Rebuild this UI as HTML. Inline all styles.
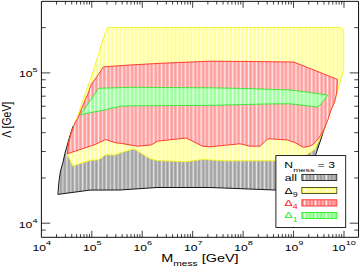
<!DOCTYPE html>
<html><head><meta charset="utf-8">
<style>
html,body{margin:0;padding:0;background:#fff;}
body{width:360px;height:267px;overflow:hidden;font-family:"Liberation Sans",sans-serif;}
svg{display:block;}
text{font-family:"Liberation Sans",sans-serif;}
</style></head><body>
<svg width="360" height="267" viewBox="0 0 360 267">
<defs>
<linearGradient id="gy" x1="0" x2="1" y1="0" y2="0"><stop offset="0.0000" stop-color="#ffff98"/><stop offset="0.0127" stop-color="#ffff98"/><stop offset="0.1899" stop-color="#ffffee"/><stop offset="0.3671" stop-color="#ffff98"/><stop offset="0.5127" stop-color="#ffff98"/><stop offset="0.6899" stop-color="#ffffd6"/><stop offset="0.8671" stop-color="#ffff98"/><stop offset="1.0000" stop-color="#ffff98"/></linearGradient><pattern id="py" width="7.9" height="40" patternUnits="userSpaceOnUse" x="2.15"><rect width="7.9" height="40" fill="url(#gy)"/></pattern><linearGradient id="gr" x1="0" x2="1" y1="0" y2="0"><stop offset="0.0000" stop-color="#ff9999"/><stop offset="0.0127" stop-color="#ff9999"/><stop offset="0.1899" stop-color="#ffeeee"/><stop offset="0.3671" stop-color="#ff9999"/><stop offset="0.5127" stop-color="#ff9999"/><stop offset="0.6899" stop-color="#ffd6d6"/><stop offset="0.8671" stop-color="#ff9999"/><stop offset="1.0000" stop-color="#ff9999"/></linearGradient><pattern id="pr" width="7.9" height="40" patternUnits="userSpaceOnUse" x="2.15"><rect width="7.9" height="40" fill="url(#gr)"/></pattern><linearGradient id="gg" x1="0" x2="1" y1="0" y2="0"><stop offset="0.0000" stop-color="#99ff99"/><stop offset="0.0127" stop-color="#99ff99"/><stop offset="0.1899" stop-color="#eeffee"/><stop offset="0.3671" stop-color="#99ff99"/><stop offset="0.5127" stop-color="#99ff99"/><stop offset="0.6899" stop-color="#d6ffd6"/><stop offset="0.8671" stop-color="#99ff99"/><stop offset="1.0000" stop-color="#99ff99"/></linearGradient><pattern id="pg" width="7.9" height="40" patternUnits="userSpaceOnUse" x="2.15"><rect width="7.9" height="40" fill="url(#gg)"/></pattern><linearGradient id="gk" x1="0" x2="1" y1="0" y2="0"><stop offset="0.0000" stop-color="#9e9e9e"/><stop offset="0.0127" stop-color="#9e9e9e"/><stop offset="0.1899" stop-color="#e8e8e8"/><stop offset="0.3671" stop-color="#9e9e9e"/><stop offset="0.5127" stop-color="#9e9e9e"/><stop offset="0.6899" stop-color="#d3d3d3"/><stop offset="0.8671" stop-color="#9e9e9e"/><stop offset="1.0000" stop-color="#9e9e9e"/></linearGradient><pattern id="pk" width="7.9" height="40" patternUnits="userSpaceOnUse" x="2.15"><rect width="7.9" height="40" fill="url(#gk)"/></pattern><linearGradient id="gly" x1="0" x2="1" y1="0" y2="0"><stop offset="0.0000" stop-color="#ffff8c"/><stop offset="0.0000" stop-color="#ffff8c"/><stop offset="0.1389" stop-color="#ffffff"/><stop offset="0.2778" stop-color="#ffff8c"/><stop offset="0.3333" stop-color="#ffff8c"/><stop offset="0.4722" stop-color="#ffffc6"/><stop offset="0.6111" stop-color="#ffff8c"/><stop offset="0.6667" stop-color="#ffff8c"/><stop offset="0.8056" stop-color="#ffffc6"/><stop offset="0.9444" stop-color="#ffff8c"/><stop offset="1.0000" stop-color="#ffff8c"/></linearGradient><pattern id="ply" width="10.8" height="40" patternUnits="userSpaceOnUse" x="303.2"><rect width="10.8" height="40" fill="url(#gly)"/></pattern><linearGradient id="glr" x1="0" x2="1" y1="0" y2="0"><stop offset="0.0000" stop-color="#ff7d7d"/><stop offset="0.0000" stop-color="#ff7d7d"/><stop offset="0.1389" stop-color="#ffffff"/><stop offset="0.2778" stop-color="#ff7d7d"/><stop offset="0.3333" stop-color="#ff7d7d"/><stop offset="0.4722" stop-color="#ffbebe"/><stop offset="0.6111" stop-color="#ff7d7d"/><stop offset="0.6667" stop-color="#ff7d7d"/><stop offset="0.8056" stop-color="#ffbebe"/><stop offset="0.9444" stop-color="#ff7d7d"/><stop offset="1.0000" stop-color="#ff7d7d"/></linearGradient><pattern id="plr" width="10.8" height="40" patternUnits="userSpaceOnUse" x="303.2"><rect width="10.8" height="40" fill="url(#glr)"/></pattern><linearGradient id="glg" x1="0" x2="1" y1="0" y2="0"><stop offset="0.0000" stop-color="#7dff7d"/><stop offset="0.0000" stop-color="#7dff7d"/><stop offset="0.1389" stop-color="#ffffff"/><stop offset="0.2778" stop-color="#7dff7d"/><stop offset="0.3333" stop-color="#7dff7d"/><stop offset="0.4722" stop-color="#beffbe"/><stop offset="0.6111" stop-color="#7dff7d"/><stop offset="0.6667" stop-color="#7dff7d"/><stop offset="0.8056" stop-color="#beffbe"/><stop offset="0.9444" stop-color="#7dff7d"/><stop offset="1.0000" stop-color="#7dff7d"/></linearGradient><pattern id="plg" width="10.8" height="40" patternUnits="userSpaceOnUse" x="303.2"><rect width="10.8" height="40" fill="url(#glg)"/></pattern><linearGradient id="glk" x1="0" x2="1" y1="0" y2="0"><stop offset="0.0000" stop-color="#969696"/><stop offset="0.0000" stop-color="#969696"/><stop offset="0.1389" stop-color="#ffffff"/><stop offset="0.2778" stop-color="#969696"/><stop offset="0.3333" stop-color="#969696"/><stop offset="0.4722" stop-color="#cacaca"/><stop offset="0.6111" stop-color="#969696"/><stop offset="0.6667" stop-color="#969696"/><stop offset="0.8056" stop-color="#cacaca"/><stop offset="0.9444" stop-color="#969696"/><stop offset="1.0000" stop-color="#969696"/></linearGradient><pattern id="plk" width="10.8" height="40" patternUnits="userSpaceOnUse" x="303.2"><rect width="10.8" height="40" fill="url(#glk)"/></pattern>
</defs>
<rect width="360" height="267" fill="#fff"/>
<polygon points="107.5,27.5 102.8,40.0 92.0,75.0 87.8,86.8 81.9,102.8 76.9,118.8 75.3,121.8 71.1,133.6 69.6,137.0 64.8,153.8 63.1,161.8 60.3,171.9 58.9,182.0 57.9,194.4 90.0,190.1 120.0,190.0 157.0,187.5 210.0,187.5 275.0,190.0 303.0,191.0 315.7,154.9 324.2,129.2 327.8,120.0 331.0,110.0 334.6,102.0 337.4,92.0 339.6,83.6 342.9,73.0 343.8,66.0 343.8,32.5 339.6,27.5" fill="url(#pk)"/>
<polyline points="73.2,126.0 71.6,130.5 69.6,137.0 64.8,153.8 63.1,161.8 60.3,171.9 58.9,182.0 57.9,194.4 90.0,190.1 120.0,190.0 157.0,187.5 210.0,187.5 275.0,190.0 303.0,191.0 315.7,154.9 324.2,129.2 325.2,126.5" fill="none" stroke="#000" stroke-width="0.9" stroke-linejoin="round"/>
<polygon points="107.5,27.5 102.8,40.0 92.0,75.0 87.8,86.8 81.9,102.8 76.9,118.8 75.3,121.8 71.1,133.6 68.5,143.7 67.2,154.0 72.8,166.0 90.0,160.4 98.8,159.8 105.5,154.8 115.0,155.0 120.0,153.0 133.8,148.8 150.0,158.8 157.5,160.5 185.0,161.8 202.5,159.5 225.0,160.8 275.0,160.8 298.0,158.5 306.4,154.9 310.7,152.0 315.0,149.2 317.1,144.2 322.8,132.3 325.2,126.5 327.8,120.0 331.0,110.0 334.6,102.0 337.4,92.0 339.6,83.6 342.9,73.0 343.8,66.0 343.8,32.5 342.8,29.0 339.6,27.5" fill="url(#py)" stroke="#f7f700" stroke-width="0.78" stroke-linejoin="round"/>
<polygon points="103.4,66.9 125.0,65.3 160.0,63.3 210.0,61.2 250.0,61.5 293.8,62.0 337.4,79.4 336.8,92.0 334.6,102.0 331.0,110.0 327.8,120.0 324.9,127.1 322.1,132.8 318.5,138.5 313.5,144.2 309.3,146.3 305.0,147.1 302.5,147.0 295.0,142.6 287.5,140.0 270.0,138.8 267.5,139.2 260.0,146.2 250.0,146.2 240.0,143.8 210.0,146.8 202.5,146.2 186.2,138.0 157.5,141.2 151.2,145.0 137.5,146.2 120.0,143.2 116.2,143.0 105.5,139.5 95.0,144.6 67.3,153.8 68.5,143.7 71.1,133.6 75.3,121.8 77.7,118.8 83.6,103.7 88.7,91.9 91.2,84.3 96.3,77.5" fill="url(#pr)" stroke="#ff1414" stroke-width="0.8" stroke-linejoin="round"/>
<polygon points="98.6,88.3 130.0,87.3 210.0,87.8 250.0,88.6 290.0,90.0 300.0,91.2 327.8,95.0 320.2,105.0 317.5,107.0 290.0,103.8 270.0,103.9 210.0,105.4 130.0,105.8 120.0,106.3 105.0,109.9 80.6,114.6" fill="url(#pg)" stroke="#1ce81c" stroke-width="0.8" stroke-linejoin="round"/>
<!-- frame -->
<path d="M41.4 1.35H358.55V237.3H41.4Z" fill="none" stroke="#000" stroke-width="0.95"/>
<path d="M56.53 237.30v-3.2M56.53 1.35v3.2M65.42 237.30v-3.2M65.42 1.35v3.2M71.72 237.30v-3.2M71.72 1.35v3.2M76.61 237.30v-3.2M76.61 1.35v3.2M80.60 237.30v-3.2M80.60 1.35v3.2M83.98 237.30v-3.2M83.98 1.35v3.2M86.90 237.30v-3.2M86.90 1.35v3.2M89.48 237.30v-3.2M89.48 1.35v3.2M91.79 237.30v-6.5M91.79 1.35v6.5M106.97 237.30v-3.2M106.97 1.35v3.2M115.86 237.30v-3.2M115.86 1.35v3.2M122.16 237.30v-3.2M122.16 1.35v3.2M127.05 237.30v-3.2M127.05 1.35v3.2M131.04 237.30v-3.2M131.04 1.35v3.2M134.42 237.30v-3.2M134.42 1.35v3.2M137.34 237.30v-3.2M137.34 1.35v3.2M139.92 237.30v-3.2M139.92 1.35v3.2M142.23 237.30v-6.5M142.23 1.35v6.5M157.41 237.30v-3.2M157.41 1.35v3.2M166.30 237.30v-3.2M166.30 1.35v3.2M172.60 237.30v-3.2M172.60 1.35v3.2M177.49 237.30v-3.2M177.49 1.35v3.2M181.48 237.30v-3.2M181.48 1.35v3.2M184.86 237.30v-3.2M184.86 1.35v3.2M187.78 237.30v-3.2M187.78 1.35v3.2M190.36 237.30v-3.2M190.36 1.35v3.2M192.67 237.30v-6.5M192.67 1.35v6.5M207.85 237.30v-3.2M207.85 1.35v3.2M216.74 237.30v-3.2M216.74 1.35v3.2M223.04 237.30v-3.2M223.04 1.35v3.2M227.93 237.30v-3.2M227.93 1.35v3.2M231.92 237.30v-3.2M231.92 1.35v3.2M235.30 237.30v-3.2M235.30 1.35v3.2M238.22 237.30v-3.2M238.22 1.35v3.2M240.80 237.30v-3.2M240.80 1.35v3.2M243.11 237.30v-6.5M243.11 1.35v6.5M258.29 237.30v-3.2M258.29 1.35v3.2M267.18 237.30v-3.2M267.18 1.35v3.2M273.48 237.30v-3.2M273.48 1.35v3.2M278.37 237.30v-3.2M278.37 1.35v3.2M282.36 237.30v-3.2M282.36 1.35v3.2M285.74 237.30v-3.2M285.74 1.35v3.2M288.66 237.30v-3.2M288.66 1.35v3.2M291.24 237.30v-3.2M291.24 1.35v3.2M293.55 237.30v-6.5M293.55 1.35v6.5M308.73 237.30v-3.2M308.73 1.35v3.2M317.62 237.30v-3.2M317.62 1.35v3.2M323.92 237.30v-3.2M323.92 1.35v3.2M328.81 237.30v-3.2M328.81 1.35v3.2M332.80 237.30v-3.2M332.80 1.35v3.2M336.18 237.30v-3.2M336.18 1.35v3.2M339.10 237.30v-3.2M339.10 1.35v3.2M341.68 237.30v-3.2M341.68 1.35v3.2M343.99 237.30v-6.5M343.99 1.35v6.5M41.40 230.08h4.3M358.55 230.08h-4.3M41.40 223.20h8.8M358.55 223.20h-8.8M41.40 177.96h4.3M358.55 177.96h-4.3M41.40 151.49h4.3M358.55 151.49h-4.3M41.40 132.71h4.3M358.55 132.71h-4.3M41.40 118.14h4.3M358.55 118.14h-4.3M41.40 106.24h4.3M358.55 106.24h-4.3M41.40 96.18h4.3M358.55 96.18h-4.3M41.40 87.47h4.3M358.55 87.47h-4.3M41.40 79.78h4.3M358.55 79.78h-4.3M41.40 72.90h8.8M358.55 72.90h-8.8M41.40 27.66h4.3M358.55 27.66h-4.3" fill="none" stroke="#000" stroke-width="0.75"/>
<!-- legend -->
<rect x="275.9" y="155.6" width="69.8" height="71.9" fill="#fff" stroke="#000" stroke-width="0.85"/>
<rect x="301.9" y="174.6" width="34.9" height="6.0" fill="url(#plk)" stroke="#000" stroke-width="0.75"/>
<rect x="301.9" y="187.4" width="34.9" height="6.0" fill="url(#ply)" stroke="#1a1a00" stroke-width="0.75"/>
<rect x="302.7" y="188.2" width="33.3" height="4.4" fill="none" stroke="#f4f400" stroke-width="0.5" stroke-opacity="0.7"/>
<rect x="301.9" y="199.8" width="34.9" height="6.2" fill="url(#plr)" stroke="#ff2020" stroke-width="0.85"/>
<rect x="301.9" y="212.4" width="34.9" height="6.2" fill="url(#plg)" stroke="#20e820" stroke-width="0.85"/>
<text transform="translate(284.2,168.1) scale(1.351,1)" font-size="9" fill="#000">N</text>
<text transform="translate(293.16,171.5) scale(1.46,1)" font-size="6.1" fill="#000">mess</text>
<text transform="translate(317.41,168.1) scale(1.351,1)" font-size="9" fill="#000">=</text>
<text transform="translate(328.24,168.1) scale(1.351,1)" font-size="9" fill="#000">3</text>
<text transform="translate(284.68,180.75) scale(1.351,1)" font-size="9" fill="#000">all</text>
<text transform="translate(284.54,193.55) scale(1.462,1)" font-size="8.3" fill="#000">Δ</text>
<text transform="translate(292.63,197.15) scale(1.4,1)" font-size="6.3" fill="#000">9</text>
<text transform="translate(284.54,205.85) scale(1.462,1)" font-size="8.3" fill="#ff1010">Δ</text>
<text transform="translate(292.63,209.45) scale(1.4,1)" font-size="6.3" fill="#ff1010">4</text>
<text transform="translate(284.54,218.25) scale(1.462,1)" font-size="8.3" fill="#18e818">Δ</text>
<text transform="translate(292.63,221.85) scale(1.4,1)" font-size="6.3" fill="#18e818">1</text>
<!-- x tick labels -->
<text transform="translate(32.46,250.65) scale(1.368,1)" font-size="8.9" fill="#000">10</text>
<text transform="translate(46.03,245.25) scale(1.5,1)" font-size="6.1" fill="#000">4</text>
<text transform="translate(82.96,250.65) scale(1.368,1)" font-size="8.9" fill="#000">10</text>
<text transform="translate(96.52,245.25) scale(1.5,1)" font-size="6.1" fill="#000">5</text>
<text transform="translate(133.41,250.65) scale(1.368,1)" font-size="8.9" fill="#000">10</text>
<text transform="translate(146.97,245.25) scale(1.5,1)" font-size="6.1" fill="#000">6</text>
<text transform="translate(183.88,250.65) scale(1.368,1)" font-size="8.9" fill="#000">10</text>
<text transform="translate(197.44,245.25) scale(1.5,1)" font-size="6.1" fill="#000">7</text>
<text transform="translate(234.29,250.65) scale(1.368,1)" font-size="8.9" fill="#000">10</text>
<text transform="translate(247.85,245.25) scale(1.5,1)" font-size="6.1" fill="#000">8</text>
<text transform="translate(284.75,250.65) scale(1.368,1)" font-size="8.9" fill="#000">10</text>
<text transform="translate(298.31,245.25) scale(1.5,1)" font-size="6.1" fill="#000">9</text>
<text transform="translate(332.10,250.65) scale(1.368,1)" font-size="8.9" fill="#000">10</text>
<text transform="translate(345.67,245.25) scale(1.5,1)" font-size="6.1" fill="#000">10</text>
<!-- y tick labels -->
<text transform="translate(18.93,77.1) scale(1.368,1)" font-size="8.9" fill="#000">10</text>
<text transform="translate(32.50,71.7) scale(1.5,1)" font-size="6.1" fill="#000">5</text>
<text transform="translate(18.82,227.9) scale(1.368,1)" font-size="8.9" fill="#000">10</text>
<text transform="translate(32.38,222.5) scale(1.5,1)" font-size="6.1" fill="#000">4</text>
<!-- x axis label -->
<text transform="translate(161.17,261.6) scale(1.374,1)" font-size="10.5" fill="#000">M</text>
<text transform="translate(173.19,265.5) scale(1.627,1)" font-size="6.3" fill="#000">mess</text>
<text transform="translate(201.74,261.6) scale(1.374,1)" font-size="10.5" fill="#000">[GeV]</text>
<!-- y axis label -->
<text transform="translate(10.8,137.6) rotate(-90) translate(-0.05,0) scale(0.833,1)" font-size="12.5" fill="#000">Λ [GeV]</text>
</svg>
</body></html>
